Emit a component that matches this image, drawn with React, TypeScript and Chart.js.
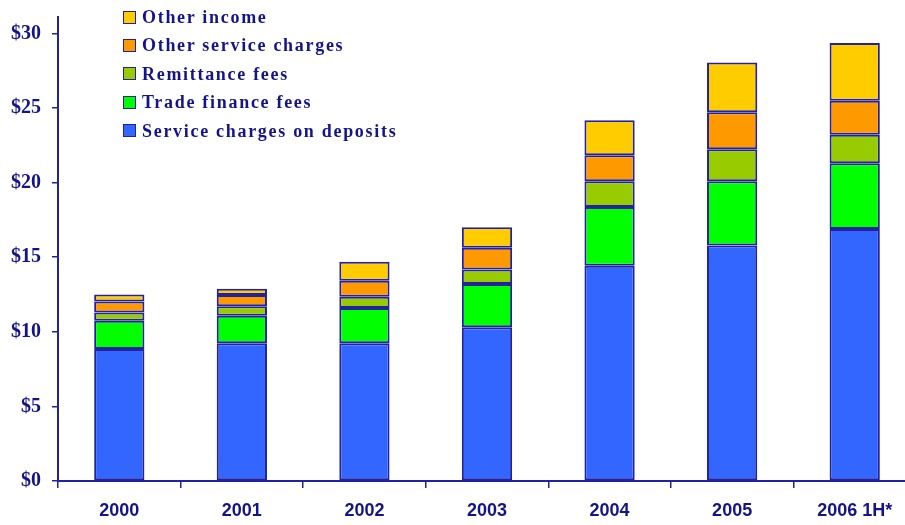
import React, { useEffect, useRef } from "react";
import Chart from "chart.js/auto";

const categories = ["2000", "2001", "2002", "2003", "2004", "2005", "2006 1H*"];
const serviceChargesOnDeposits = [8.84, 9.24, 9.24, 10.31, 14.43, 15.79, 16.89];
const tradeFinanceFees = [1.9, 1.83, 2.35, 2.89, 3.94, 4.3, 4.41];
const remittanceFees = [0.56, 0.65, 0.76, 0.98, 1.72, 2.15, 1.9];
const otherServiceCharges = [0.73, 0.74, 1.07, 1.46, 1.74, 2.48, 2.28];
const otherIncome = [0.47, 0.43, 1.28, 1.36, 2.35, 3.33, 3.87];

const seriesNames = [
  "Service charges on deposits",
  "Trade finance fees",
  "Remittance fees",
  "Other service charges",
  "Other income",
];
const seriesColors = ["#3366FF", "#00FF00", "#99CC00", "#FF9900", "#FFCC00"];
const yTickValues = [0, 5, 10, 15, 20, 25, 30];

const NAVY = "#14148a";
const BORDER = "#2222a0";

export default function App() {
  const ref = useRef<HTMLCanvasElement | null>(null);

  useEffect(() => {
    if (!ref.current) return;
    const seriesValues = [
      serviceChargesOnDeposits,
      tradeFinanceFees,
      remittanceFees,
      otherServiceCharges,
      otherIncome,
    ];
    const chart = new Chart(ref.current, {
      type: "bar",
      data: {
        labels: categories,
        datasets: seriesValues.map((d, i) => ({
          label: seriesNames[i],
          data: d,
          backgroundColor: seriesColors[i],
          borderColor: BORDER,
          borderWidth: 2,
          borderSkipped: false,
          categoryPercentage: 1,
          barPercentage: 0.41,
        })),
      },
      options: {
        responsive: false,
        animation: false,
        devicePixelRatio: 1,
        layout: { padding: { left: 0, top: 17, right: 14, bottom: 0 } },
        plugins: { legend: { display: false }, tooltip: { enabled: false } },
        scales: {
          x: {
            stacked: true,
            grid: {
              drawOnChartArea: false,
              drawTicks: true,
              tickLength: 7,
              color: BORDER,
              lineWidth: 1.5,
              offset: true,
            },
            border: { display: true, color: BORDER, width: 2 },
            ticks: {
              color: NAVY,
              padding: 12,
              maxRotation: 0,
              autoSkip: false,
              font: { family: "'Liberation Sans', Arial, sans-serif", size: 18, weight: "bold" },
            },
            afterFit: (scale: any) => {
              scale.height = 44;
            },
          },
          y: {
            stacked: true,
            min: 0,
            max: 31.1,
            grid: {
              drawOnChartArea: false,
              drawTicks: true,
              tickLength: 6,
              color: BORDER,
              lineWidth: 1.5,
            },
            border: { display: true, color: BORDER, width: 2 },
            afterBuildTicks: (scale: any) => {
              scale.ticks = yTickValues.map((v) => ({ value: v }));
            },
            ticks: {
              color: NAVY,
              padding: 11,
              callback: (v: any) => "$" + v,
              font: { family: "'Liberation Serif', 'Times New Roman', serif", size: 20, weight: "bold" },
            },
            afterFit: (scale: any) => {
              scale.width = 58;
              scale.paddingTop = 0;
              scale.paddingBottom = 0;
            },
          },
        },
      },
    });
    return () => chart.destroy();
  }, []);

  const legendRows = [4, 3, 2, 1, 0];
  const rowCenters = [17, 45, 73.5, 102, 130.5];

  return (
    <div
      style={{
        position: "fixed",
        left: 0,
        top: 0,
        width: 905,
        height: 525,
        overflow: "hidden",
        background: "#ffffff",
      }}
    >
      <canvas ref={ref} width={930} height={525} style={{ display: "block", width: 930, height: 525 }} />
      {legendRows.map((si, r) => (
        <React.Fragment key={si}>
          <div
            style={{
              position: "absolute",
              left: 123,
              top: rowCenters[r] - 6.5,
              width: 13,
              height: 13,
              boxSizing: "border-box",
              border: `1.5px solid ${BORDER}`,
              background: seriesColors[si],
            }}
          />
          <div
            style={{
              position: "absolute",
              left: 142,
              top: rowCenters[r] - 11,
              height: 22,
              lineHeight: "22px",
              whiteSpace: "nowrap",
              fontFamily: "'Liberation Serif', 'Times New Roman', serif",
              fontWeight: "bold",
              fontSize: 18,
              letterSpacing: "1.7px",
              color: NAVY,
            }}
          >
            {seriesNames[si]}
          </div>
        </React.Fragment>
      ))}
    </div>
  );
}
